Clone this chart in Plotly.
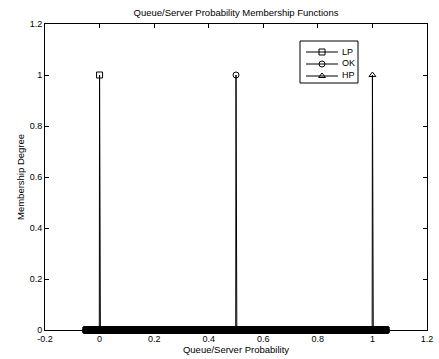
import numpy as np
import plotly.graph_objects as go

# Universe of discourse (sampled points) and singleton peak positions
universe = np.round(np.arange(-50, 1051) / 1000, 3).tolist()
names = ["LP", "OK", "HP"]
peaks = [0.0, 0.5, 1.0]
symbols = ["square-open", "circle-open", "triangle-up-open"]

xticks = [-0.2, 0, 0.2, 0.4, 0.6, 0.8, 1, 1.2]
xticklabels = ["-0.2", "0", "0.2", "0.4", "0.6", "0.8", "1", "1.2"]
yticks = [0, 0.2, 0.4, 0.6, 0.8, 1, 1.2]
yticklabels = ["0", "0.2", "0.4", "0.6", "0.8", "1", "1.2"]

# plot area in pixels (for placing the MATLAB-style legend)
W, H = 439, 359
L, R, T, B = 45, 12, 24, 29
pw, ph = W - L - R, H - T - B


def px(xp):
    return (xp - L) / pw


def py(yp):
    return (H - B - yp) / ph


fig = go.Figure()
for name, p, sym in zip(names, peaks, symbols):
    ys = [1.0 if abs(x - p) < 1e-9 else 0.0 for x in universe]
    fig.add_trace(go.Scatter(
        x=universe, y=ys, name=name, mode="lines+markers", showlegend=False,
        cliponaxis=False,
        line=dict(color="black", width=1),
        marker=dict(symbol=sym, size=6, color="black", line=dict(width=1, color="black")),
    ))

font = "Liberation Sans, Arial, Helvetica, sans-serif"

# Custom MATLAB-like legend
shapes = [dict(type="rect", xref="paper", yref="paper",
               x0=px(300), x1=px(358), y0=py(83), y1=py(41),
               line=dict(color="black", width=1), fillcolor="rgba(0,0,0,0)")]
annotations = []
row_y = [52, 64, 76]
for name, sym, ry in zip(names, symbols, row_y):
    shapes.append(dict(type="line", xref="paper", yref="paper",
                       x0=px(306), x1=px(338), y0=py(ry), y1=py(ry),
                       line=dict(color="black", width=1)))
    annotations.append(dict(text=name, xref="paper", yref="paper",
                            x=px(340), y=py(ry - 0.5), xanchor="left", yanchor="middle",
                            showarrow=False, font=dict(size=9, color="black", family=font)))
    fig.add_trace(go.Scatter(
        x=[px(322)], y=[py(ry)], xaxis="x2", yaxis="y2", mode="markers",
        showlegend=False, hoverinfo="skip",
        marker=dict(symbol=sym, size=6, color="black", line=dict(width=1, color="black")),
    ))

# y-axis title placed as annotation (MATLAB position)
annotations.append(dict(text="Membership Degree", xref="paper", yref="paper",
                        x=px(20), y=0.5, xanchor="center", yanchor="middle",
                        textangle=-90, showarrow=False,
                        font=dict(size=9.5, color="black", family=font)))

axis_common = dict(
    showline=True, linecolor="black", linewidth=1, mirror="ticks",
    ticks="inside", ticklen=4, tickcolor="black", tickwidth=1,
    showgrid=False, zeroline=False, automargin=False,
    tickfont=dict(size=9, color="black", family=font),
)
fig.update_layout(
    width=W, height=H,
    margin=dict(l=L, r=R, t=T, b=B, autoexpand=False),
    paper_bgcolor="white", plot_bgcolor="white",
    font=dict(family=font, size=9, color="black"),
    title=dict(text="Queue/Server Probability Membership Functions",
               x=0.5, xref="paper", xanchor="center", y=0.965, yanchor="middle",
               font=dict(size=9.5, color="black", family=font)),
    xaxis=dict(range=[-0.2, 1.2], tickvals=xticks, ticktext=xticklabels,
               title=dict(text="Queue/Server Probability", standoff=2,
                          font=dict(size=9.5, color="black")),
               **axis_common),
    yaxis=dict(range=[0, 1.2], tickvals=yticks, ticktext=yticklabels,
               **axis_common),
    xaxis2=dict(overlaying="x", range=[0, 1], visible=False, fixedrange=True),
    yaxis2=dict(overlaying="y", range=[0, 1], visible=False, fixedrange=True),
    shapes=shapes,
    annotations=annotations,
    showlegend=False,
)
fig.write_html("out.html")
